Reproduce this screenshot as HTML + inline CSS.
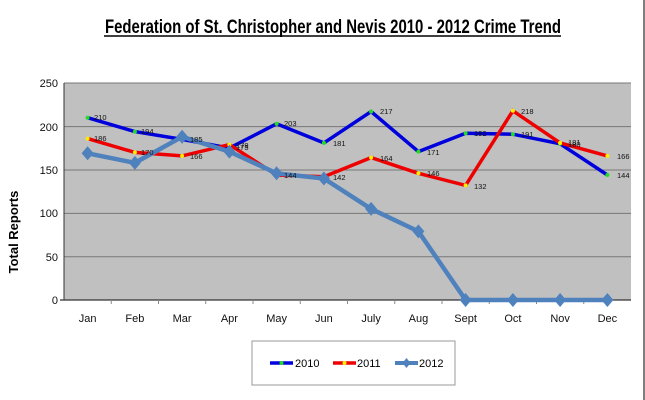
<!DOCTYPE html>
<html><head><meta charset="utf-8"><style>
html,body{margin:0;padding:0;background:#fff;}
svg{display:block;font-family:"Liberation Sans",Arial,sans-serif;}
</style></head><body>
<svg width="645" height="400" viewBox="0 0 645 400">
<rect x="0" y="0" width="645" height="400" fill="#fff"/>
<line x1="644" y1="0" x2="644" y2="400" stroke="#555" stroke-width="1.5"/>
<text x="333" y="33" text-anchor="middle" font-size="19" font-weight="bold" textLength="456" lengthAdjust="spacingAndGlyphs">Federation of St. Christopher and Nevis 2010 - 2012 Crime Trend</text>
<line x1="104" y1="36" x2="561" y2="36" stroke="#000" stroke-width="1.5"/>
<rect x="64" y="83" width="567" height="217" fill="#c0c0c0"/>
<g stroke="#777" stroke-width="1">
<line x1="64" y1="83" x2="631" y2="83"/>
<line x1="64" y1="126.6" x2="631" y2="126.6"/>
<line x1="64" y1="170" x2="631" y2="170"/>
<line x1="64" y1="213.4" x2="631" y2="213.4"/>
<line x1="64" y1="256.8" x2="631" y2="256.8"/>
</g>
<line x1="64" y1="83" x2="64" y2="300" stroke="#333"/>
<line x1="60" y1="300" x2="631" y2="300" stroke="#333" stroke-width="1.2"/>
<g stroke="#888"><line x1="111.25" y1="300" x2="111.25" y2="304"/><line x1="158.5" y1="300" x2="158.5" y2="304"/><line x1="205.75" y1="300" x2="205.75" y2="304"/><line x1="253" y1="300" x2="253" y2="304"/><line x1="300.25" y1="300" x2="300.25" y2="304"/><line x1="347.5" y1="300" x2="347.5" y2="304"/><line x1="394.75" y1="300" x2="394.75" y2="304"/><line x1="442" y1="300" x2="442" y2="304"/><line x1="489.25" y1="300" x2="489.25" y2="304"/><line x1="536.5" y1="300" x2="536.5" y2="304"/><line x1="583.75" y1="300" x2="583.75" y2="304"/></g>
<g font-size="11" text-anchor="end" fill="#111">
<text x="58" y="304">0</text><text x="58" y="261">50</text><text x="58" y="217">100</text><text x="58" y="174">150</text><text x="58" y="131">200</text><text x="58" y="87">250</text>
</g>
<g font-size="11" text-anchor="middle" fill="#111">
<text x="87.6" y="322">Jan</text><text x="134.9" y="322">Feb</text><text x="182.1" y="322">Mar</text><text x="229.4" y="322">Apr</text><text x="276.6" y="322">May</text><text x="323.9" y="322">Jun</text><text x="371.1" y="322">July</text><text x="418.4" y="322">Aug</text><text x="465.6" y="322">Sept</text><text x="512.9" y="322">Oct</text><text x="560.1" y="322">Nov</text><text x="607.4" y="322">Dec</text>
</g>
<text transform="translate(18,232) rotate(-90)" font-size="13" font-weight="bold" text-anchor="middle">Total Reports</text>
<polyline fill="none" stroke="#0000dd" stroke-width="3.5" points="87.6,117.7 134.9,131.6 182.1,139.4 229.4,148.1 276.6,123.8 323.9,142.9 371.1,111.6 418.4,151.6 465.6,133.3 512.9,134.2 560.1,143.8 607.4,175"/>
<polyline fill="none" stroke="#ee0000" stroke-width="3.5" points="87.6,138.6 134.9,152.4 182.1,155.9 229.4,144.6 276.6,175 323.9,176.7 371.1,157.6 418.4,173.3 465.6,185.4 512.9,110.8 560.1,142.9 607.4,155.9"/>
<polyline fill="none" stroke="#4f81bd" stroke-width="4.5" points="87.6,153.3 134.9,162.9 182.1,136.8 229.4,151.6 276.6,173.3 323.9,178.5 371.1,208.9 418.4,231.4 465.6,300 512.9,300 560.1,300 607.4,300"/>
<g fill="#22dd22">
<circle cx="87.6" cy="117.7" r="2"/><circle cx="134.9" cy="131.6" r="2"/><circle cx="182.1" cy="139.4" r="2"/><circle cx="229.4" cy="148.1" r="2"/><circle cx="276.6" cy="123.8" r="2"/><circle cx="323.9" cy="142.9" r="2"/><circle cx="371.1" cy="111.6" r="2"/><circle cx="418.4" cy="151.6" r="2"/><circle cx="465.6" cy="133.3" r="2"/><circle cx="512.9" cy="134.2" r="2"/><circle cx="560.1" cy="143.8" r="2"/><circle cx="607.4" cy="175" r="2"/>
</g>
<g fill="#ffee00">
<circle cx="87.6" cy="138.6" r="2"/><circle cx="134.9" cy="152.4" r="2"/><circle cx="182.1" cy="155.9" r="2"/><circle cx="229.4" cy="144.6" r="2"/><circle cx="276.6" cy="175" r="2"/><circle cx="323.9" cy="176.7" r="2"/><circle cx="371.1" cy="157.6" r="2"/><circle cx="418.4" cy="173.3" r="2"/><circle cx="465.6" cy="185.4" r="2"/><circle cx="512.9" cy="110.8" r="2"/><circle cx="560.1" cy="142.9" r="2"/><circle cx="607.4" cy="155.9" r="2"/>
</g>
<g fill="#4f81bd">
<path d="M87.6,146.3 l6,7 l-6,7 l-6,-7z"/><path d="M134.9,155.9 l6,7 l-6,7 l-6,-7z"/><path d="M182.1,129.8 l6,7 l-6,7 l-6,-7z"/><path d="M229.4,144.6 l6,7 l-6,7 l-6,-7z"/><path d="M276.6,166.3 l6,7 l-6,7 l-6,-7z"/><path d="M323.9,171.5 l6,7 l-6,7 l-6,-7z"/><path d="M371.1,201.9 l6,7 l-6,7 l-6,-7z"/><path d="M418.4,224.4 l6,7 l-6,7 l-6,-7z"/><path d="M465.6,293 l6,7 l-6,7 l-6,-7z"/><path d="M512.9,293 l6,7 l-6,7 l-6,-7z"/><path d="M560.1,293 l6,7 l-6,7 l-6,-7z"/><path d="M607.4,293 l6,7 l-6,7 l-6,-7z"/>
</g>
<g font-size="7.5" fill="#111">
<text x="94" y="120">210</text><text x="141" y="134">194</text><text x="190" y="142">185</text><text x="236" y="150">175</text><text x="284" y="126">203</text><text x="333" y="146">181</text><text x="380" y="114">217</text><text x="427" y="155">171</text><text x="474" y="136">192</text><text x="521" y="137">191</text><text x="568" y="147">180</text><text x="617" y="178">144</text>
<text x="94" y="141">186</text><text x="141" y="155">170</text><text x="190" y="159">166</text><text x="236" y="148">179</text><text x="284" y="178">144</text><text x="333" y="180">142</text><text x="380" y="161">164</text><text x="427" y="176">146</text><text x="474" y="189">132</text><text x="521" y="114">218</text><text x="568" y="145">181</text><text x="617" y="159">166</text>
</g>
<rect x="252" y="341" width="203" height="44" fill="#fff" stroke="#999"/>
<line x1="270" y1="363" x2="293" y2="363" stroke="#0000dd" stroke-width="3.5"/><circle cx="281.5" cy="363" r="2" fill="#22dd22"/>
<text x="295" y="367" font-size="11">2010</text>
<line x1="333" y1="363" x2="356" y2="363" stroke="#ee0000" stroke-width="3.5"/><circle cx="344.5" cy="363" r="2" fill="#ffee00"/>
<text x="357" y="367" font-size="11">2011</text>
<line x1="395" y1="363" x2="418" y2="363" stroke="#4f81bd" stroke-width="4"/><path d="M406.5,358 l4,5 l-4,5 l-4,-5z" fill="#4f81bd"/>
<text x="419" y="367" font-size="11">2012</text>
</svg>
</body></html>
